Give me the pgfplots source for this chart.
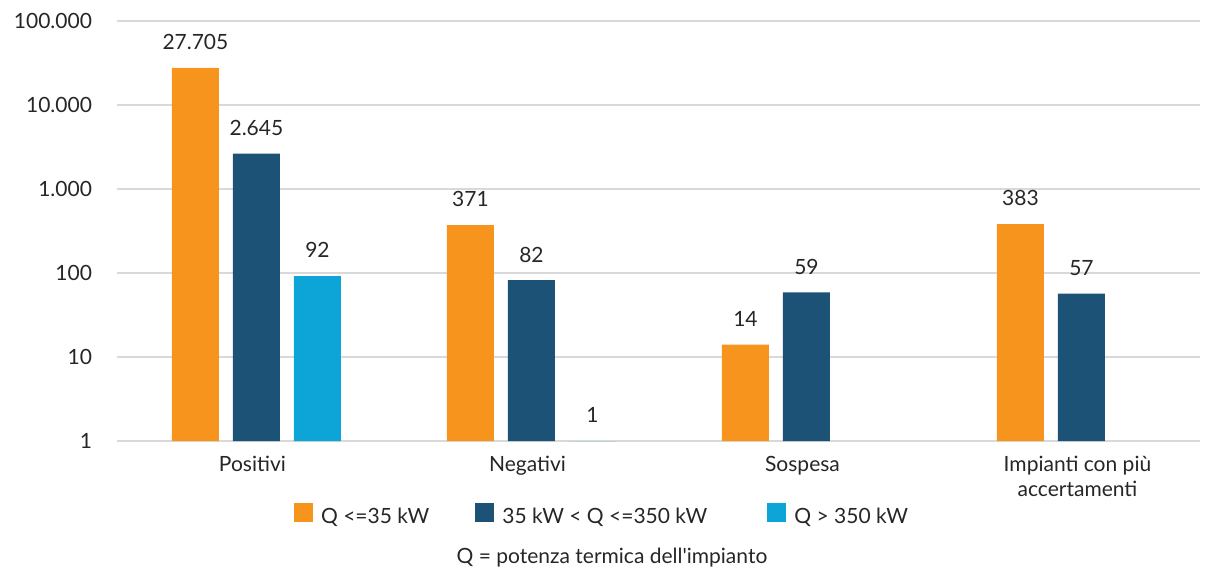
\documentclass[border=0pt]{standalone}
\usepackage{fontspec}
\setmainfont{Lato}
\usepackage{pgfplots}
\pgfplotsset{compat=1.18}

\definecolor{qlow}{HTML}{F7941D}
\definecolor{qmid}{HTML}{1C5276}
\definecolor{qhigh}{HTML}{0DA5D7}
\definecolor{gridgray}{HTML}{D9D9D9}
\definecolor{txt}{HTML}{262626}

\begin{document}
\begin{tikzpicture}[font=\fontsize{10.5}{12.6}\selectfont, text=txt]
	\begin{axis}[
		scale only axis,
		width=541.5pt, height=210pt,
		ymode=log, log basis y=10,
		ymin=1, ymax=100000,
		xmin=-0.507, xmax=3.431,
		ybar, bar width=23.5pt,
		ytick={1,10,100,1000,10000,100000},
		yticklabels={1,10,100,1.000,10.000,100.000},
		xtick={0,1,2,3},
		xticklabels={Positivi,Negativi,Sospesa,{Impianti con più\\accertamenti}},
		xticklabel style={align=center, yshift=-4pt, xshift=-2pt},
		yticklabel style={xshift=-9pt},
		major tick length=0pt,
		minor tick num=0,
		axis line style={draw=none},
		ymajorgrids,
		grid style={gridgray, line width=0.75pt},
		/pgf/number format/assume math mode=true,
		point meta=explicit symbolic,
		nodes near coords,
		nodes near coords style={anchor=south, yshift=5.5pt, text=txt},
		clip=false,
		legend columns=3,
		legend image code/.code={\fill[#1] (0pt,-2.5pt) rectangle (9.5pt,7pt);},
		legend style={draw=none, fill=none, at={(0.4488,-0.181)}, anchor=center,
			/tikz/column 2/.style={column sep=21pt},
			/tikz/column 4/.style={column sep=28pt},
			/tikz/every odd column/.append style={column sep=2pt}},
		]
		\addplot[fill=qlow, draw=none, bar shift=-30.5pt] coordinates {
			(0,27705) [27.705]
			(1,371) [371]
			(2,14) [14]
			(3,383) [383]
		};
		\addlegendentry{Q <=35 kW}
		\addplot[fill=qmid, draw=none, bar shift=0pt] coordinates {
			(0,2645) [2.645]
			(1,82) [82]
			(2,59) [59]
			(3,57) [57]
		};
		\addlegendentry{35 kW < Q <=350 kW}
		\addplot[fill=qhigh, draw=none, bar shift=30.5pt] coordinates {
			(0,92) [92]
			(1,1) [1]
		};
		\addlegendentry{Q > 350 kW}
		\coordinate (bl) at (rel axis cs:0,0);
		\node at (rel axis cs:0.457,-0.2786) {Q = potenza termica dell\textquotesingle impianto};
	\end{axis}
	\pgfresetboundingbox
	\path (bl) ++(-58.5pt,-64pt) rectangle ++(606.5pt,284.5pt);
\end{tikzpicture}
\end{document}
